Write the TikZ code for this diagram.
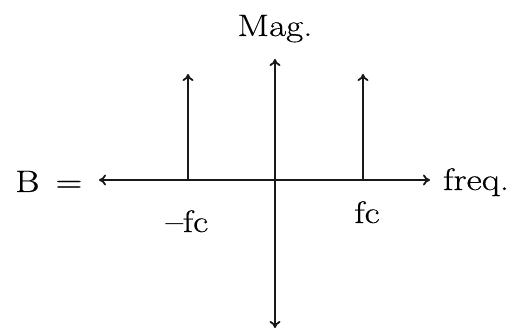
\documentclass[tikz,border=0pt]{standalone}
\usepackage{fontspec}
\setmainfont{Latin Modern Roman}[FakeStretch=1.2,FakeBold=0.4]
\usetikzlibrary{arrows.meta}
\begin{document}
\begin{tikzpicture}[x=1pt,y=1pt,
  axis/.style={line width=2.4pt,draw=black!90,-{To[length=7pt,width=11pt,line width=1.8pt]}},
  spike/.style={axis},
  lbl/.style={inner sep=0pt,anchor=base,font=\fontsize{31}{36}\selectfont}]
\useasboundingbox (0,0) rectangle (518,331);
\coordinate (O) at (275,151);
\coordinate (L) at (99,151);
\coordinate (R) at (430,151);
\coordinate (T) at (275,272);
\coordinate (Bt) at (275,3);
\coordinate (nb) at (188,151);
\coordinate (nt) at (188,257);
\coordinate (pb) at (363,151);
\coordinate (pt) at (363,257);
\draw[axis] (O) -- (L);
\draw[axis] (O) -- (R);
\draw[axis] (O) -- (T);
\draw[axis] (O) -- (Bt);
\draw[spike] (nb) -- (nt);
\draw[spike] (pb) -- (pt);
\node[lbl] (mag) at (275,295) {Mag.};
\node[lbl,anchor=base west] (b) at (15,139) {B\hspace{16pt}=};
\node[lbl,anchor=base west] (freq) at (443,141) {freq.};
\node[lbl] (fc) at (367,108) {fc};
\node[lbl] (mfc) at (187,99) {\textendash fc};
\end{tikzpicture}
\end{document}
